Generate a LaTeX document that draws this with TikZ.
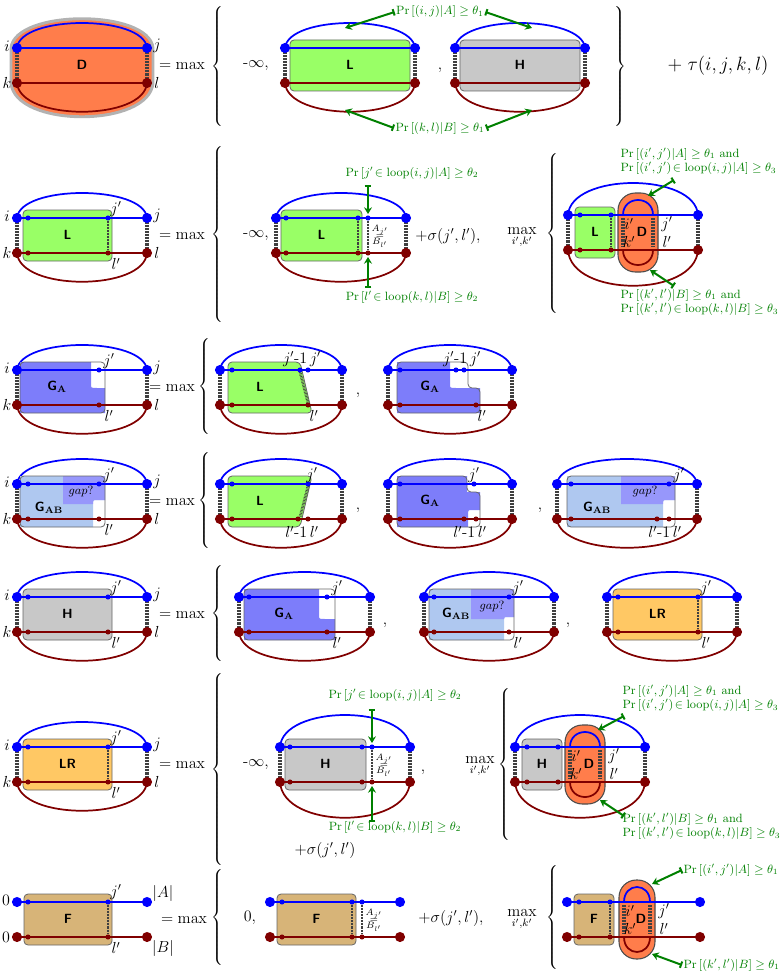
\documentclass[tikz,border=0pt]{standalone}
\usepackage{amsmath,amssymb}
\usetikzlibrary{arrows.meta,calc}
\definecolor{maroon}{RGB}{128,0,0}
\definecolor{pgreen}{RGB}{0,128,0}
\definecolor{lgreen}{RGB}{153,255,102}
\definecolor{hgray}{RGB}{200,200,200}
\definecolor{gacol}{RGB}{125,125,250}
\definecolor{gabcol}{RGB}{175,200,240}
\definecolor{lrcol}{RGB}{255,200,100}
\definecolor{fcol}{RGB}{215,180,120}
\definecolor{dcol}{RGB}{255,125,75}

\tikzset{
  aline/.style={blue, line width=1.6pt},
  bline/.style={maroon, line width=1.6pt},
  toparc/.style={blue, line width=1.3pt},
  botarc/.style={maroon, line width=1.3pt},
  rung/.style={line width=2.4pt, dash pattern=on 0.5pt off 0.6pt, black!75},
  boxst/.style={draw=black!60, line width=0.6pt, rounded corners=3pt},
  boxlab/.style={font=\sffamily\bfseries},
  dbox/.style={draw=black!70, fill=dcol, line width=0.8pt, rounded corners=13pt},
  prl/.style={text=pgreen, font=\small, inner sep=1pt},
  parr/.style={pgreen, line width=1.5pt, {Bar[width=5pt]}-{Stealth[length=5pt,width=6pt]}},
  lab/.style={inner sep=1pt, font=\large},
  big/.style={font=\large}
}
% small dot on a line
\newcommand{\sdot}[3]{\fill[#3] (#1,#2) circle (1.9pt);}
% element with loops: x, y, width, rise, inner part
\newcommand{\elem}[5]{%
  \begin{scope}[shift={(#1,#2)}]
    \draw[toparc] (0,0) .. controls (3,{-#4*4/3}) and ({#3-3},{-#4*4/3}) .. (#3,0);
    \draw[botarc] (0,35) .. controls (3,{35+#4*4/3+5}) and ({#3-3},{35+#4*4/3+5}) .. (#3,35);
    \draw[rung] (0,4) -- (0,31);
    \draw[rung] (#3,4) -- (#3,31);
    #5
    \draw[aline] (0,0) -- (#3,0);
    \draw[bline] (0,35) -- (#3,35);
    \fill[blue] (0,0) circle (3.8pt); \fill[blue] (#3,0) circle (3.8pt);
    \fill[maroon] (0,35) circle (3.8pt); \fill[maroon] (#3,35) circle (3.8pt);
  \end{scope}}
% element without loops
\newcommand{\elemF}[4]{%
  \begin{scope}[shift={(#1,#2)}]
    #4
    \draw[aline] (0,0) -- (#3,0);
    \draw[bline] (0,35) -- (#3,35);
    \fill[blue] (0,0) circle (3.8pt); \fill[blue] (#3,0) circle (3.8pt);
    \fill[maroon] (0,35) circle (3.8pt); \fill[maroon] (#3,35) circle (3.8pt);
  \end{scope}}
% plain box: x1, x2, colour, label
\newcommand{\pbox}[4]{%
  \draw[boxst, fill=#3] (#1,-8) rectangle (#2,43);
  \node[boxlab] at ({(#1+#2)/2},17) {#4};}
% nested D oval: x1, x2
\newcommand{\dnest}[2]{%
  \draw[dbox] (#1,-22) rectangle (#2,57);
  \draw[toparc] ({#1+5},0) .. controls ({#1+5},-20) and ({#2-5},-20) .. ({#2-5},0);
  \draw[botarc] ({#1+5},35) .. controls ({#1+5},55) and ({#2-5},55) .. ({#2-5},35);
  \draw[rung] ({#1+5},3) -- ({#1+5},32);
  \draw[rung] ({#2-5},3) -- ({#2-5},32);
  \node[lab] at ({#1+11},9) {$i'$};
  \node[lab] at ({#1+11},27) {$k'$};
  \node[boxlab] at ({(#1+#2)/2+4},17) {D};
  \node[lab] at ({#2+9},9) {$j'$};
  \node[lab] at ({#2+9},27) {$l'$};}
\newcommand{\ijkl}[1]{%
  \node[lab] at (-10,-2) {$i$}; \node[lab] at ({#1+10},-2) {$j$};
  \node[lab] at (-10,35) {$k$}; \node[lab] at ({#1+10},35) {$l$};}
\newcommand{\brc}[1]{$\left\{\vrule height #1 depth #1 width 0pt\right.$}

\begin{document}
\begin{tikzpicture}[x=0.75pt, y=-0.75pt]
  \useasboundingbox (0,0) rectangle (779,974);

  % row 1: D
  \filldraw[shift={(17,48)}, fill=dcol, draw=black!30, line width=2.2pt] (-6,35) -- (-6,0) .. controls (-2,-39) and (132,-39) .. (136,0) -- (136,35) .. controls (132,80) and (-2,80) .. cycle;
  \elem{17}{48}{130}{25}{%
    \node[boxlab] at (65,17) {D};
    \ijkl{130}}
  \node[big] (eq1) at (182,66) {$=\max$};
  \node (br1) at (218,68) {\brc{45pt}};
  \node[big] (ninf1) at (256,66) {$\text{-}\infty,$};
  \elem{285}{48}{130}{25}{\pbox{5}{125}{lgreen}{L}}
  \node[big] (cm1) at (440,70) {,};
  \elem{455}{48}{130}{25}{\pbox{5}{125}{hgray}{H}}
  \node (rb1) at (620,68) {$\left.\vrule height 45pt depth 45pt width 0pt\right\}$};
  \node[font=\Large] (tau) at (718,66) {$+\;\tau(i,j,k,l)$};
  \node[prl] (pA1) at (440,12) {$\Pr\left[(i,j)|A\right]\geq\theta_1$};
  \node[prl] (pB1) at (440,128) {$\Pr\left[(k,l)|B\right]\geq\theta_1$};
  \draw[parr] (pA1.west) -- (345,28);
  \draw[parr] (pA1.east) -- (532,28);
  \draw[parr] (pB1.west) -- (345,110);
  \draw[parr] (pB1.east) -- (532,110);

  % row 2: L
  \elem{17}{218}{130}{25}{%
    \pbox{6}{95}{lgreen}{L}
    \draw[rung, line width=2pt] (91,3) -- (91,32);
    \sdot{11}{0}{blue} \sdot{91}{0}{blue} \sdot{11}{35}{maroon} \sdot{91}{35}{maroon}
    \node[lab] at (99,-9) {$j'$}; \node[lab] at (99,46) {$l'$};
    \ijkl{130}}
  \node[big] (eq2) at (182,236) {$=\max$};
  \node (br2) at (218,236) {\brc{66pt}};
  \node[big] (ninf2) at (256,236) {$\text{-}\infty,$};
  \elem{276}{218}{130}{25}{%
    \pbox{5}{86}{lgreen}{L}
    \draw[rung, line width=2pt] (82,3) -- (82,32);
    \draw[rung, line width=2pt] (92,3) -- (92,32);
    \sdot{10}{0}{blue} \sdot{82}{0}{blue} \sdot{92}{0}{blue}
    \sdot{10}{35}{maroon} \sdot{82}{35}{maroon} \sdot{92}{35}{maroon}
    \node[font=\scriptsize, inner sep=0pt] at (104,18) {\shortstack{$A_{j'}$\\[-3pt]$=$\\[-3pt]$B_{l'}$}};
    \draw[parr] (92,-33) -- (92,-4);
    \draw[parr] (92,70) -- (92,39);}
  \node[prl] (pA2) at (412,173) {$\Pr\left[j'\!\in\mathrm{loop}(i,j)|A\right]\geq\theta_2$};
  \node[prl] (pB2) at (412,297) {$\Pr\left[l'\!\in\mathrm{loop}(k,l)|B\right]\geq\theta_2$};
  \node[big] (sig2) at (448,236) {$+\sigma(j',l'),$};
  \node[big] (mx2) at (522,238) {$\displaystyle\max_{i',k'}$};
  \node (br2b) at (553,234) {\brc{58pt}};
  \elem{568}{215}{130}{32}{%
    \pbox{7}{47}{lgreen}{L}
    \sdot{12}{0}{blue} \sdot{43}{0}{blue} \sdot{12}{35}{maroon} \sdot{43}{35}{maroon}
    \draw[rung, line width=2pt] (43,3) -- (43,32);
    \dnest{50}{90}}
  \node[prl, align=left, anchor=north west] (pA2b) at (619,146) {$\Pr\left[(i',j')|A\right]\geq\theta_1$ and\\$\Pr\left[(i',j')\!\in\mathrm{loop}(i,j)|A\right]\geq\theta_3$};
  \node[prl, align=left, anchor=north west] (pB2b) at (619,287) {$\Pr\left[(k',l')|B\right]\geq\theta_1$ and\\$\Pr\left[(k',l')\!\in\mathrm{loop}(k,l)|B\right]\geq\theta_3$};
  \draw[parr] (674,180) -- (648,196);
  \draw[parr] (674,286) -- (650,270);

  % row 3: G_A
  \elem{17}{370}{130}{25}{%
    \fill[gacol] (3,-8) -- (74,-8) -- (74,14) .. controls (74,18) .. (80,18) -- (88,18) -- (88,43) -- (3,43) -- cycle;
    \draw[boxst] (3,-8) rectangle (88,43);
    \node[boxlab] at (40,17) {G$_\mathbf{A}$};
    \sdot{82}{0}{blue} \sdot{82}{35}{maroon}
    \node[lab] at (92,-9) {$j'$}; \node[lab] at (92,46) {$l'$};
    \ijkl{130}}
  \node[big] (eq3) at (172,388) {$=\max$};
  \node (br3) at (205,388) {\brc{36pt}};
  \elem{220}{370}{122}{25}{%
    \draw[boxst, fill=lgreen] (8,-8) -- (80,-8) -- (92,43) -- (8,43) -- cycle;
    \draw[rung, line width=2pt] (80,2) -- (88,33);
    \node[boxlab] at (40,17) {L};
    \sdot{12}{0}{blue} \sdot{80}{0}{blue} \sdot{88}{0}{blue}
    \sdot{12}{35}{maroon} \sdot{88}{35}{maroon}
    \node[lab] at (82,-11) {$j'$-$1\,j'$}; \node[lab] at (94,46) {$l'$};}
  \node[big] (cm3) at (358,395) {,};
  \elem{388}{370}{124}{25}{%
    \fill[gacol] (9,-8) -- (62,-8) -- (62,14) .. controls (62,18) .. (68,18) -- (92,18) -- (92,43) -- (9,43) -- cycle;
    \draw[boxst] (9,-8) -- (80,-8) -- (80,18) -- (92,18) -- (92,43) -- (9,43) -- cycle;
    \node[boxlab] at (42,17) {G$_\mathbf{A}$};
    \sdot{12}{0}{blue} \sdot{68}{0}{blue} \sdot{76}{0}{blue}
    \sdot{12}{35}{maroon} \sdot{88}{35}{maroon}
    \node[lab] at (74,-11) {$j'$-$1\,j'$}; \node[lab] at (94,46) {$l'$};}

  % row 4: G_AB
  \elem{17}{484}{130}{25}{%
    \fill[gabcol] (3,-8) -- (88,-8) -- (88,16) -- (80,16) .. controls (76,16) .. (76,22) -- (76,43) -- (3,43) -- cycle;
    \fill[gacol!80] (46,-8) -- (88,-8) -- (88,16) -- (80,16) .. controls (76,16) .. (76,20) -- (46,20) -- cycle;
    \draw[boxst] (3,-8) rectangle (88,43);
    \node[boxlab] at (32,24) {G$_\mathbf{AB}$};
    \node[font=\small] at (64,7) {$gap?$};
    \sdot{11}{0}{blue} \sdot{82}{0}{blue} \sdot{11}{35}{maroon} \sdot{82}{35}{maroon}
    \node[lab] at (92,-9) {$j'$}; \node[lab] at (92,46) {$l'$};
    \ijkl{130}}
  \node[big] (eq4) at (172,502) {$=\max$};
  \node (br4) at (205,502) {\brc{36pt}};
  \elem{220}{484}{122}{25}{%
    \draw[boxst, fill=lgreen] (8,-8) -- (92,-8) -- (80,43) -- (8,43) -- cycle;
    \draw[rung, line width=2pt] (88,2) -- (80,33);
    \node[boxlab] at (40,17) {L};
    \sdot{12}{0}{blue} \sdot{88}{0}{blue}
    \sdot{12}{35}{maroon} \sdot{78}{35}{maroon} \sdot{88}{35}{maroon}
    \node[lab] at (92,-9) {$j'$}; \node[lab] at (82,48) {$l'$-$1\,l'$};}
  \node[big] (cm4a) at (358,510) {,};
  \elem{388}{484}{124}{25}{%
    \fill[gacol] (9,-8) -- (79,-8) -- (79,8) -- (92,8) -- (92,26) -- (84,26) .. controls (80,26) .. (80,32) -- (80,43) -- (9,43) -- cycle;
    \draw[boxst] (9,-8) -- (79,-8) -- (79,8) -- (92,8) -- (92,43) -- (9,43) -- cycle;
    \node[boxlab] at (42,17) {G$_\mathbf{A}$};
    \sdot{12}{0}{blue} \sdot{86}{0}{blue}
    \sdot{12}{35}{maroon} \sdot{76}{35}{maroon} \sdot{88}{35}{maroon}
    \node[lab] at (86,-9) {$j'$}; \node[lab] at (82,48) {$l'$-$1\,l'$};}
  \node[big] (cm4b) at (540,510) {,};
  \elem{557}{484}{140}{25}{%
    \fill[gabcol] (10,-8) -- (118,-8) -- (118,16) -- (110,16) .. controls (106,16) .. (106,22) -- (106,43) -- (10,43) -- cycle;
    \fill[gacol!80] (64,-8) -- (118,-8) -- (118,16) -- (110,16) .. controls (106,16) .. (106,20) -- (64,20) -- cycle;
    \draw[boxst] (10,-8) rectangle (118,43);
    \node[boxlab] at (40,24) {G$_\mathbf{AB}$};
    \node[font=\small] at (88,7) {$gap?$};
    \sdot{14}{0}{blue} \sdot{112}{0}{blue}
    \sdot{14}{35}{maroon} \sdot{100}{35}{maroon} \sdot{112}{35}{maroon}
    \node[lab] at (122,-9) {$j'$}; \node[lab] at (108,48) {$l'$-$1\,l'$};}

  % row 5: H
  \elem{17}{597}{130}{25}{%
    \pbox{6}{95}{hgray}{H}
    \sdot{11}{0}{blue} \sdot{91}{0}{blue} \sdot{11}{35}{maroon} \sdot{91}{35}{maroon}
    \node[lab] at (99,-9) {$j'$}; \node[lab] at (99,46) {$l'$};
    \ijkl{130}}
  \node[big] (eq5) at (182,615) {$=\max$};
  \node (br5) at (218,615) {\brc{36pt}};
  \elem{239}{597}{131}{25}{%
    \fill[gacol] (5,-8) -- (80,-8) -- (80,18) .. controls (80,22) .. (86,22) -- (96,22) -- (96,43) -- (5,43) -- cycle;
    \draw[boxst] (5,-8) rectangle (96,43);
    \node[boxlab] at (45,17) {G$_\mathbf{A}$};
    \sdot{10}{0}{blue} \sdot{88}{0}{blue} \sdot{10}{35}{maroon} \sdot{88}{35}{maroon}
    \node[lab] at (98,-9) {$j'$}; \node[lab] at (98,46) {$l'$};}
  \node[big] (cm5a) at (385,625) {,};
  \elem{424}{597}{130}{25}{%
    \fill[gabcol] (5,-8) -- (90,-8) -- (90,20) -- (84,20) .. controls (80,20) .. (80,26) -- (80,43) -- (5,43) -- cycle;
    \fill[gacol!80] (47,-8) -- (90,-8) -- (90,20) -- (84,20) .. controls (80,20) .. (80,22) -- (47,22) -- cycle;
    \draw[boxst] (5,-8) rectangle (90,43);
    \node[boxlab] at (32,17) {G$_\mathbf{AB}$};
    \node[font=\small] at (68,9) {$gap?$};
    \sdot{10}{0}{blue} \sdot{85}{0}{blue} \sdot{10}{35}{maroon} \sdot{85}{35}{maroon}
    \node[lab] at (94,-9) {$j'$}; \node[lab] at (94,46) {$l'$};}
  \node[big] (cm5b) at (568,625) {,};
  \elem{607}{597}{130}{25}{%
    \pbox{6}{95}{lrcol}{LR}
    \draw[rung, line width=2pt] (91,3) -- (91,32);
    \sdot{11}{0}{blue} \sdot{91}{0}{blue} \sdot{11}{35}{maroon} \sdot{91}{35}{maroon}
    \node[lab] at (99,-9) {$j'$}; \node[lab] at (99,46) {$l'$};}

  % row 6: LR
  \elem{17}{747}{130}{25}{%
    \pbox{6}{95}{lrcol}{LR}
    \draw[rung, line width=2pt] (91,3) -- (91,32);
    \sdot{11}{0}{blue} \sdot{91}{0}{blue} \sdot{11}{35}{maroon} \sdot{91}{35}{maroon}
    \node[lab] at (99,-9) {$j'$}; \node[lab] at (99,46) {$l'$};
    \ijkl{130}}
  \node[big] (eq6) at (182,765) {$=\max$};
  \node (br6) at (218,770) {\brc{70pt}};
  \node[big] (ninf6) at (256,765) {$\text{-}\infty,$};
  \elem{280}{747}{130}{32}{%
    \pbox{5}{86}{hgray}{H}
    \sdot{10}{0}{blue} \sdot{82}{0}{blue} \sdot{92}{0}{blue}
    \sdot{10}{35}{maroon} \sdot{82}{35}{maroon} \sdot{92}{35}{maroon}
    \draw[rung, line width=2pt] (92,3) -- (92,32);
    \node[font=\scriptsize, inner sep=0pt] at (104,18) {\shortstack{$A_{j'}$\\[-3pt]$=$\\[-3pt]$B_{l'}$}};
    \draw[parr] (92,-38) -- (92,-4);
    \draw[parr] (92,75) -- (92,39);}
  \node[prl] (pA6) at (395,695) {$\Pr\left[j'\!\in\mathrm{loop}(i,j)|A\right]\geq\theta_2$};
  \node[prl] (pB6) at (395,827) {$\Pr\left[l'\!\in\mathrm{loop}(k,l)|B\right]\geq\theta_2$};
  \node[big] (cm6) at (423,772) {,};
  \node[big] (sig6) at (325,850) {$+\sigma(j',l')$};
  \node[big] (mx6) at (480,767) {$\displaystyle\max_{i',k'}$};
  \node (br6b) at (505,765) {\brc{56pt}};
  \elem{515}{747}{130}{32}{%
    \pbox{7}{47}{hgray}{H}
    \sdot{12}{0}{blue} \sdot{43}{0}{blue} \sdot{12}{35}{maroon} \sdot{43}{35}{maroon}
    \dnest{50}{90}}
  \node[prl, align=left, anchor=north west] (pA6b) at (621,683) {$\Pr\left[(i',j')|A\right]\geq\theta_1$ and\\$\Pr\left[(i',j')\!\in\mathrm{loop}(i,j)|A\right]\geq\theta_3$};
  \node[prl, align=left, anchor=north west] (pB6b) at (621,811) {$\Pr\left[(k',l')|B\right]\geq\theta_1$ and\\$\Pr\left[(k',l')\!\in\mathrm{loop}(k,l)|B\right]\geq\theta_3$};
  \draw[parr] (624,716) -- (598,730);
  \draw[parr] (624,816) -- (600,800);

  % row 7: F
  \elemF{17}{902}{130}{%
    \pbox{7}{95}{fcol}{F}
    \draw[rung, line width=2pt] (91,3) -- (91,32);
    \sdot{11}{0}{blue} \sdot{91}{0}{blue} \sdot{11}{35}{maroon} \sdot{91}{35}{maroon}
    \node[lab] at (99,-10) {$j'$}; \node[lab] at (99,46) {$l'$};
    \node[lab] at (-11,-2) {$0$}; \node[lab] at (-11,35) {$0$};
    \node[lab] at (146,-9) {$|A|$}; \node[lab] at (146,46) {$|B|$};}
  \node[big] (eq7) at (184,920) {$=\max$};
  \node (br7) at (218,918) {\brc{34pt}};
  \node[big] (zero7) at (250,918) {$0,$};
  \elemF{270}{902}{130}{%
    \pbox{7}{86}{fcol}{F}
    \draw[rung, line width=2pt] (82,3) -- (82,32);
    \draw[rung, line width=2pt] (92,3) -- (92,32);
    \sdot{12}{0}{blue} \sdot{82}{0}{blue} \sdot{92}{0}{blue}
    \sdot{12}{35}{maroon} \sdot{82}{35}{maroon} \sdot{92}{35}{maroon}
    \node[font=\scriptsize, inner sep=0pt] at (104,18) {\shortstack{$A_{j'}$\\[-3pt]$=$\\[-3pt]$B_{l'}$}};}
  \node[big] (sig7) at (451,918) {$+\sigma(j',l'),$};
  \node[big] (mx7) at (522,920) {$\displaystyle\max_{i',k'}$};
  \node (br7b) at (553,918) {\brc{38pt}};
  \elemF{567}{902}{133}{%
    \pbox{7}{47}{fcol}{F}
    \draw[rung, line width=2pt] (43,3) -- (43,32);
    \sdot{12}{0}{blue} \sdot{43}{0}{blue} \sdot{12}{35}{maroon} \sdot{43}{35}{maroon}
    \dnest{52}{88}}
  \node[prl, anchor=west] (pA7) at (682,870) {$\Pr\left[(i',j')|A\right]\geq\theta_1$};
  \node[prl, anchor=west] (pB7) at (682,965) {$\Pr\left[(k',l')|B\right]\geq\theta_1$};
  \draw[parr] (pA7.west) -- (652,884);
  \draw[parr] (pB7.west) -- (652,954);
\end{tikzpicture}
\end{document}
